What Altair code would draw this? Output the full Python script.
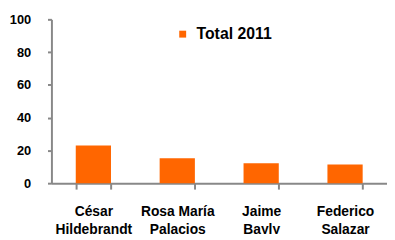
import altair as alt
import pandas as pd

candidates = ["César|Hildebrandt", "Rosa María|Palacios", "Jaime|Bayly", "Federico|Salazar"]
values = [23, 15.2, 12.2, 11.4]
series = ["Total 2011"] * 4

df = pd.DataFrame({"candidate": candidates, "value": values, "series": series})

FONT = "Liberation Sans"

chart = alt.Chart(df).mark_bar(color="#ff6600").encode(
    x=alt.X("candidate:N", sort=candidates, title=None,
            scale=alt.Scale(paddingInner=0.58, paddingOuter=0.29),
            axis=alt.Axis(labelAngle=0, labelExpr="split(datum.label, '|')",
                          labelFont=FONT, labelFontSize=14, labelFontWeight="bold",
                          labelColor="#000000", labelLineHeight=18, labelPadding=16,
                          labelBaseline="top",
                          tickBand="extent", tickSize=6, tickColor="#888888", tickWidth=2,
                          domainColor="#888888", domainWidth=2)),
    y=alt.Y("value:Q", title=None,
            scale=alt.Scale(domain=[0, 100]),
            axis=alt.Axis(values=[0, 20, 40, 60, 80, 100], grid=False,
                          labelFont=FONT, labelFontSize=13, labelFontWeight="bold",
                          labelColor="#000000", labelPadding=17,
                          tickSize=4, tickColor="#888888", tickWidth=2,
                          domainColor="#888888", domainWidth=2)),
    color=alt.Color("series:N", title=None,
                    scale=alt.Scale(range=["#ff6600"]),
                    legend=alt.Legend(orient="none", legendX=125, legendY=7,
                                      symbolType="square", symbolSize=49,
                                      labelFont=FONT, labelFontSize=16,
                                      labelFontWeight="bold", labelColor="#000000",
                                      padding=0, labelOffset=6)),
).properties(
    width=340, height=166,
    autosize=alt.AutoSizeParams(type="none"),
    padding={"left": 44, "top": 10, "right": 0, "bottom": 50},
).configure_view(stroke=None)

chart.save("out.html", embed_options={"renderer": "svg", "actions": False})
